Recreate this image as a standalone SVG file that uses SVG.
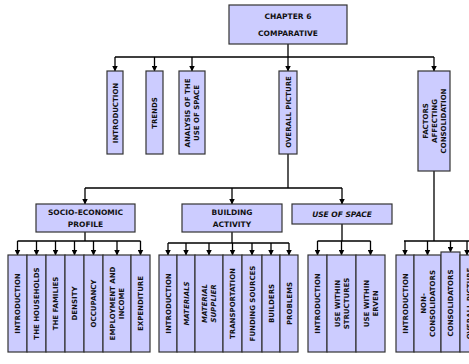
<svg xmlns="http://www.w3.org/2000/svg" width="469" height="364" viewBox="0 0 469 364">
<defs>
<marker id="ah" markerUnits="userSpaceOnUse" markerWidth="6" markerHeight="6" refX="5.5" refY="3" orient="auto">
<path d="M0,0 L6,3 L0,6 z" fill="#000"/>
</marker>
<style>
.b{fill:#ccccff;stroke:#333;stroke-width:1.2}
.t{font-family:"DejaVu Sans",sans-serif;font-weight:bold;font-size:7px;fill:#111;text-anchor:middle}
.h{font-size:7.5px}
.i{font-style:italic}
.c{fill:none;stroke:#000;stroke-width:1.3}
.a{fill:none;stroke:#000;stroke-width:1.3;marker-end:url(#ah)}
</style>
</defs>
<rect width="469" height="364" fill="#fff"/>

<g id="connectors">
<path class="c" d="M288,44 V57 M115,57 H434 M288,154 V188 M85,188 H342 M434,171 V241 M404,241 H469"/>
<path class="a" d="M115,57 V71"/>
<path class="a" d="M154.5,57 V71"/>
<path class="a" d="M192,57 V71"/>
<path class="a" d="M288,57 V71"/>
<path class="a" d="M434,57 V71"/>
<path class="a" d="M85,188 V204"/>
<path class="a" d="M232,188 V204"/>
<path class="a" d="M342,188 V204"/>
<path class="c" d="M85,232 V241 M17.5,241 H140.5 M232,232 V243 M168,243 H289 M342,224 V241 M317.5,241 H370.5"/>
<path class="a" d="M17.5,241 V255"/>
<path class="a" d="M36.5,241 V255"/>
<path class="a" d="M55.5,241 V255"/>
<path class="a" d="M74.5,241 V255"/>
<path class="a" d="M93.5,241 V255"/>
<path class="a" d="M117,241 V255"/>
<path class="a" d="M140.5,241 V255"/>
<path class="a" d="M168,243 V255"/>
<path class="a" d="M186,243 V255"/>
<path class="a" d="M209,243 V255"/>
<path class="a" d="M232.5,243 V255"/>
<path class="a" d="M252,243 V255"/>
<path class="a" d="M271,243 V255"/>
<path class="a" d="M289,243 V255"/>
<path class="a" d="M317.5,241 V255"/>
<path class="a" d="M341.5,241 V255"/>
<path class="a" d="M370.5,241 V255"/>
<path class="a" d="M405,241 V255"/>
<path class="a" d="M427.5,241 V255"/>
<path class="a" d="M450.5,241 V252"/>
<path class="a" d="M467,241 V255"/>
</g>

<g id="chapter">
<rect class="b" x="229" y="5" width="118" height="39"/>
<text class="t h" x="288" y="19">CHAPTER 6</text>
<text class="t h" x="288" y="36">COMPARATIVE</text>
</g>

<g id="l1-introduction">
<rect class="b" x="107" y="71" width="16" height="83"/>
<text class="t" transform="translate(115,113) rotate(-90)" y="2.5">INTRODUCTION</text>
</g>
<g id="l1-trends">
<rect class="b" x="146" y="71" width="17" height="83"/>
<text class="t" transform="translate(154.5,113) rotate(-90)" y="2.5">TRENDS</text>
</g>
<g id="l1-analysis">
<rect class="b" x="179" y="71" width="26" height="83"/>
<text class="t" transform="translate(192,113) rotate(-90)"><tspan x="0" y="-2">ANALYSIS OF THE</tspan><tspan x="0" y="7">USE OF SPACE</tspan></text>
</g>
<g id="l1-overall">
<rect class="b" x="279" y="71" width="18" height="83"/>
<text class="t" transform="translate(288,112) rotate(-90)" y="2.5">OVERALL PICTURE</text>
</g>
<g id="l1-factors">
<rect class="b" x="418" y="71" width="32" height="100"/>
<text class="t" transform="translate(434,121) rotate(-90)"><tspan x="0" y="-6.5">FACTORS</tspan><tspan x="0" y="2.5">AFFECTING</tspan><tspan x="0" y="11.5">CONSOLIDATION</tspan></text>
</g>

<g id="socio">
<rect class="b" x="36" y="204" width="99" height="28"/>
<text class="t h" x="85.5" y="215">SOCIO-ECONOMIC</text>
<text class="t h" x="85.5" y="227">PROFILE</text>
</g>
<g id="building">
<rect class="b" x="182" y="204" width="100" height="28"/>
<text class="t h" x="232" y="215">BUILDING</text>
<text class="t h" x="232" y="227">ACTIVITY</text>
</g>
<g id="usespace">
<rect class="b" x="292" y="204" width="100" height="20"/>
<text class="t h i" x="342" y="217">USE OF SPACE</text>
</g>

<g id="se-introduction"><rect class="b" x="8" y="255" width="19" height="97"/><text class="t" transform="translate(17.5,303.5) rotate(-90)" y="2.5">INTRODUCTION</text></g>
<g id="se-households"><rect class="b" x="27" y="255" width="19" height="97"/><text class="t" transform="translate(36.5,303.5) rotate(-90)" y="2.5">THE HOUSEHOLDS</text></g>
<g id="se-families"><rect class="b" x="46" y="255" width="19" height="97"/><text class="t" transform="translate(55.5,303.5) rotate(-90)" y="2.5">THE FAMILIES</text></g>
<g id="se-density"><rect class="b" x="65" y="255" width="19" height="97"/><text class="t" transform="translate(74.5,303.5) rotate(-90)" y="2.5">DENSITY</text></g>
<g id="se-occupancy"><rect class="b" x="84" y="255" width="19" height="97"/><text class="t" transform="translate(93.5,303.5) rotate(-90)" y="2.5">OCCUPANCY</text></g>
<g id="se-employment"><rect class="b" x="103" y="255" width="28" height="97"/><text class="t" transform="translate(117,303.5) rotate(-90)"><tspan x="0" y="-2">EMPLOYMENT AND</tspan><tspan x="0" y="7">INCOME</tspan></text></g>
<g id="se-expenditure"><rect class="b" x="131" y="255" width="19" height="97"/><text class="t" transform="translate(140.5,303.5) rotate(-90)" y="2.5">EXPENDITURE</text></g>

<g id="ba-introduction"><rect class="b" x="159" y="255" width="18" height="97"/><text class="t" transform="translate(168,303.5) rotate(-90)" y="2.5">INTRODUCTION</text></g>
<g id="ba-materials"><rect class="b" x="177" y="255" width="18" height="97"/><text class="t i" transform="translate(186,303.5) rotate(-90)" y="2.5">MATERIALS</text></g>
<g id="ba-supplier"><rect class="b" x="195" y="255" width="28" height="97"/><text class="t i" transform="translate(209,303.5) rotate(-90)"><tspan x="0" y="-2">MATERIAL</tspan><tspan x="0" y="7">SUPPLIER</tspan></text></g>
<g id="ba-transportation"><rect class="b" x="223" y="255" width="19" height="97"/><text class="t" transform="translate(232.5,303.5) rotate(-90)" y="2.5">TRANSPORTATION</text></g>
<g id="ba-funding"><rect class="b" x="242" y="255" width="20" height="97"/><text class="t" transform="translate(252,303.5) rotate(-90)" y="2.5">FUNDING SOURCES</text></g>
<g id="ba-builders"><rect class="b" x="262" y="255" width="18" height="97"/><text class="t" transform="translate(271,303.5) rotate(-90)" y="2.5">BUILDERS</text></g>
<g id="ba-problems"><rect class="b" x="280" y="255" width="18" height="97"/><text class="t" transform="translate(289,303.5) rotate(-90)" y="2.5">PROBLEMS</text></g>

<g id="us-introduction"><rect class="b" x="308" y="255" width="19" height="97"/><text class="t" transform="translate(317.5,303.5) rotate(-90)" y="2.5">INTRODUCTION</text></g>
<g id="us-structures"><rect class="b" x="327" y="255" width="29" height="97"/><text class="t" transform="translate(341.5,303.5) rotate(-90)"><tspan x="0" y="-2">USE WITHIN</tspan><tspan x="0" y="7">STRUCTURES</tspan></text></g>
<g id="us-erven"><rect class="b" x="356" y="255" width="29" height="97"/><text class="t" transform="translate(370.5,303.5) rotate(-90)"><tspan x="0" y="-2">USE WITHIN</tspan><tspan x="0" y="7">ERVEN</tspan></text></g>

<g id="fc-introduction"><rect class="b" x="396" y="255" width="18" height="97"/><text class="t" transform="translate(405,303.5) rotate(-90)" y="2.5">INTRODUCTION</text></g>
<g id="fc-non"><rect class="b" x="414" y="255" width="27" height="97"/><text class="t" transform="translate(427.5,303.5) rotate(-90)"><tspan x="0" y="-2">NON-</tspan><tspan x="0" y="7">CONSOLIDATORS</tspan></text></g>
<g id="fc-consolidators"><rect class="b" x="441" y="252" width="19" height="100"/><text class="t" transform="translate(450.5,303) rotate(-90)" y="2.5">CONSOLIDATORS</text></g>
<g id="fc-overall"><rect class="b" x="460" y="255" width="19" height="97"/><text class="t" transform="translate(469.5,303.5) rotate(-90)" y="2.5">OVERALL PICTURE</text></g>
</svg>
